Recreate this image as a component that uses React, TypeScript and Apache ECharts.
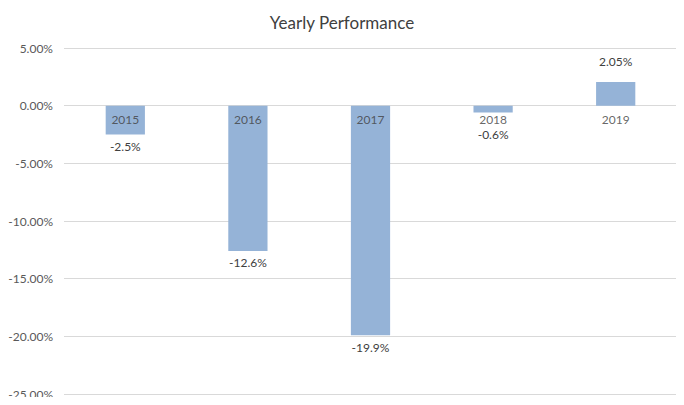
import React, { useEffect, useRef } from "react";
import * as echarts from "echarts";

const categories = ["2015", "2016", "2017", "2018", "2019"];
const values = [-2.5, -12.6, -19.9, -0.6, 2.05];
const valueLabels = ["-2.5%", "-12.6%", "-19.9%", "-0.6%", "2.05%"];
const categoryBaseline = [0, 0, 0, 0, 0];
const yTicks = { min: -25, max: 5, interval: 5 };

export default function App() {
  const ref = useRef<HTMLDivElement>(null);
  useEffect(() => {
    if (!ref.current) return;
    const chart = echarts.init(ref.current, undefined, { renderer: "svg" });
    const font = "Lato, 'Open Sans', 'Liberation Sans', sans-serif";
    chart.setOption({
      animation: false,
      title: {
        text: "Yearly Performance",
        left: "center",
        top: 9,
        textStyle: { fontFamily: font, fontSize: 17, fontWeight: "normal", color: "#404040" },
      },
      grid: { left: 64, right: 7, top: 48, bottom: 11, containLabel: false, outerBoundsMode: "none" },
      xAxis: {
        type: "category",
        data: categories,
        axisLine: { show: false },
        axisTick: { show: false },
        axisLabel: { show: false },
      },
      yAxis: {
        type: "value",
        min: yTicks.min,
        max: yTicks.max,
        interval: yTicks.interval,
        axisLine: { show: false },
        axisTick: { show: false },
        splitLine: { lineStyle: { color: "#d9d9d9" } },
        axisLabel: {
          margin: 11,
          fontFamily: font,
          fontSize: 12,
          color: "#595959",
          formatter: (v: number) => v.toFixed(2) + "%",
        },
      },
      series: [
        {
          type: "bar",
          barWidth: "32%",
          itemStyle: { color: "#95b3d7" },
          data: values.map((v, i) => ({
            value: v,
            label: {
              show: true,
              position: v < 0 ? "bottom" : "top",
              distance: v < 0 ? (v > -1 ? 16 : 6) : 15,
              fontFamily: font,
              fontSize: 12,
              lineHeight: 12,
              color: "#404040",
              formatter: () => valueLabels[i],
            },
          })),
        },
        {
          type: "scatter",
          symbolSize: 0,
          silent: true,
          z: 10,
          data: categoryBaseline.map((v, i) => ({
            value: v,
            label: {
              show: true,
              position: "bottom",
              distance: 8,
              fontFamily: font,
              fontSize: 12,
              lineHeight: 12,
              color: "#404040",
              formatter: () => categories[i],
            },
          })),
        },
      ],
    });
    return () => chart.dispose();
  }, []);
  return <div ref={ref} style={{ width: 684, height: 405, margin: -8 }} />;
}
